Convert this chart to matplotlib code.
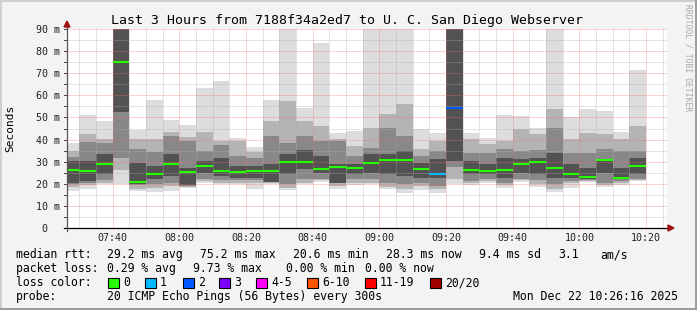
import matplotlib
matplotlib.use('Agg')
import matplotlib.pyplot as plt
from matplotlib.patches import Rectangle, Polygon
from matplotlib.transforms import blended_transform_factory

W, H = 697, 310
plt.rcParams['font.family'] = ['DejaVu Sans Mono']

# end time of each 5 minute step (bar covers the 5 minutes before it)
times = ['07:30', '07:35', '07:40', '07:45', '07:50', '07:55', '08:00', '08:05', '08:10',
         '08:15', '08:20', '08:25', '08:30', '08:35', '08:40', '08:45', '08:50', '08:55',
         '09:00', '09:05', '09:10', '09:15', '09:20', '09:25', '09:30', '09:35', '09:40',
         '09:45', '09:50', '09:55', '10:00', '10:05', '10:10', '10:15', '10:20']

# smoke layers in ms (outer = min..max of the 20 pings, core = around the median)
outer_lo = [16.9, 17.8, 19.9, 20.0, 16.9, 16.3, 16.7, 18.1, 20.5, 19.7, 19.7, 17.8, 19.7, 17.2, 19.7, 20.8, 17.5, 19.3,
            19.7, 17.8, 16.0, 17.2, 16.0, 19.7, 19.3, 20.5, 18.1, 20.8, 18.7, 16.3, 18.2, 20.8, 18.7, 19.3, 21.3]
outer_hi = [38.6, 51.1, 48.4, 95.0, 44.3, 57.9, 48.8, 46.7, 63.3, 66.5, 40.6, 36.8, 57.9, 95.0, 54.4, 83.5, 43.1, 43.9,
            95.0, 95.0, 95.0, 44.9, 42.8, 95.0, 42.8, 40.6, 51.0, 50.7, 45.4, 95.0, 50.4, 54.0, 52.9, 43.4, 71.5]
mid_lo = [18.7, 19.3, 20.5, 26.2, 17.8, 18.2, 19.0, 18.7, 21.1, 20.5, 20.5, 20.5, 20.5, 18.2, 20.5, 21.7, 19.0, 20.5,
          20.5, 18.7, 17.5, 19.0, 17.5, 22.0, 20.5, 21.1, 19.3, 21.7, 19.7, 17.8, 20.2, 21.3, 19.3, 20.2, 21.7]
mid_hi = [34.8, 42.4, 40.1, 95.0, 40.1, 40.4, 43.4, 41.2, 43.4, 39.4, 39.4, 34.4, 48.4, 57.4, 48.4, 46.1, 40.1, 37.1,
          45.4, 51.4, 55.9, 35.6, 39.4, 95.0, 40.1, 37.8, 39.4, 44.6, 42.4, 53.7, 40.1, 43.1, 42.4, 40.1, 46.1]
inner_lo = [19.7, 20.5, 21.7, 31.8, 19.3, 19.7, 20.5, 19.2, 22.0, 21.7, 21.7, 21.7, 21.3, 19.7, 22.3, 22.3, 20.2, 22.0,
            22.0, 20.5, 19.7, 20.5, 19.0, 27.8, 21.3, 22.0, 20.5, 22.3, 21.7, 19.7, 21.3, 21.7, 20.5, 21.3, 22.3]
inner_hi = [32.3, 38.9, 38.3, 95.0, 35.9, 34.4, 41.6, 39.4, 34.8, 37.4, 32.6, 31.8, 41.6, 38.6, 41.6, 39.4, 39.4, 32.6,
            36.3, 45.4, 41.6, 32.6, 34.8, 95.0, 34.1, 34.1, 35.6, 34.8, 35.3, 45.4, 34.1, 34.1, 35.6, 34.8, 34.8]
core_lo = [20.5, 21.1, 24.3, 52.5, 20.0, 22.0, 23.5, 19.6, 25.0, 23.5, 22.8, 22.8, 21.0, 24.3, 26.5, 25.0, 20.5, 24.3,
           25.0, 24.3, 23.5, 22.8, 22.8, 30.3, 24.3, 24.3, 22.8, 25.0, 24.3, 22.8, 22.8, 22.3, 25.0, 22.3, 24.3]
core_hi = [30.3, 30.3, 33.3, 95.0, 29.5, 28.0, 33.3, 27.0, 30.3, 31.8, 28.0, 28.0, 28.8, 33.3, 35.3, 32.6, 28.8, 28.8,
           33.3, 33.3, 34.8, 29.5, 31.1, 95.0, 30.3, 28.8, 31.8, 31.1, 31.8, 34.1, 28.8, 27.3, 31.1, 27.3, 31.8]
median = [26.2, 25.8, 29.1, 75.2, 20.6, 24.4, 28.8, 25.5, 28.0, 25.9, 25.5, 25.9, 25.9, 29.9, 29.9, 26.8, 27.7, 27.2,
          29.5, 30.8, 30.8, 26.8, 24.6, 54.4, 26.2, 25.8, 26.2, 29.1, 30.0, 27.3, 24.6, 23.2, 30.8, 22.8, 28.0]
loss = [0, 0, 0, 0, 0, 0, 0, 0, 0, 0, 0, 0, 0, 0, 0, 0, 0, 0,
        0, 0, 0, 0, 1, 2, 0, 0, 0, 0, 0, 0, 0, 0, 0, 0, 0]

loss_labels = ['0', '1', '2', '3', '4-5', '6-10', '11-19', '20/20']
loss_colors = ['#26ff00', '#00b8ff', '#0059ff', '#7e00ff', '#ff00ff', '#ff5500', '#ff0000', '#a10000']

xtick_labels = ['07:40', '08:00', '08:20', '08:40', '09:00', '09:20', '09:40', '10:00', '10:20']
ytick_values = [0, 10, 20, 30, 40, 50, 60, 70, 80, 90]
ytick_labels = [' 0', '10 m', '20 m', '30 m', '40 m', '50 m', '60 m', '70 m', '80 m', '90 m']


def tmin(s):
    h, m = s.split(':')
    return int(h) * 60 + int(m)


t_end = tmin('10:26') + 16 / 60
t_start = t_end - 180

fig = plt.figure(figsize=(W / 100, H / 100), dpi=100, facecolor='#f3f3f3')
# rrdtool style frame
fig.add_artist(Rectangle((0, 1 - 2 / H), 1, 2 / H, transform=fig.transFigure, color='#cfcfcf', lw=0))
fig.add_artist(Rectangle((0, 0), 2 / W, 1, transform=fig.transFigure, color='#cfcfcf', lw=0))
fig.add_artist(Rectangle((0, 0), 1, 2 / H, transform=fig.transFigure, color='#9e9e9e', lw=0))
fig.add_artist(Rectangle((1 - 2 / W, 0), 2 / W, 1, transform=fig.transFigure, color='#9e9e9e', lw=0))

ax = fig.add_axes([67 / W, 82 / H, 600 / W, 199 / H])
ax.set_facecolor('white')
ax.set_xlim(t_start, t_end)
ax.set_ylim(0, 90)
for s in ax.spines.values():
    s.set_visible(False)
ax.set_xticks([])
ax.set_yticks([])

ends = [tmin(t) for t in times]
lefts = [e - 5 for e in ends]
layers = [(outer_lo, outer_hi, '#dddddd'), (mid_lo, mid_hi, '#b4b4b4'),
          (inner_lo, inner_hi, '#888888'), (core_lo, core_hi, '#525252')]
for lo, hi, col in layers:
    ax.bar(lefts, [h - l for l, h in zip(lo, hi)], bottom=lo, width=5, align='edge',
           color=col, linewidth=0, zorder=2)

ax.hlines(median, lefts, ends, colors=[loss_colors[k] for k in loss], linewidth=1.5, zorder=4)

# grid (drawn over the smoke, like rrdtool)
dot = (0, (1, 1))
red = (1, 0.4, 0.4, 0.6)
grey = (0.68, 0.68, 0.68, 0.65)
for v in range(5, 95, 5):
    ax.axhline(v, color=red if v % 10 == 0 else grey, lw=0.72, ls=dot, zorder=3)
m = (int(t_start) // 5 + 1) * 5
while m < t_end:
    ax.axvline(m, color=red if m % 20 == 0 else grey, lw=0.72, ls=dot, zorder=3)
    m += 5

# axes lines with arrows
ax.plot([-3 / 600, 1 + 3 / 600], [0, 0], color='black', lw=0.9, transform=ax.transAxes,
        clip_on=False, zorder=5)
ax.plot([0, 0], [-3 / 199, 1 + 4 / 199], color='#555555', lw=0.9, transform=ax.transAxes,
        clip_on=False, zorder=5)
ax.add_patch(Polygon([[1 + 1 / 600, 3 / 199], [1 + 1 / 600, -3 / 199], [1 + 7 / 600, 0]],
                     closed=True, color='#a01010', transform=ax.transAxes, clip_on=False, zorder=6))
ax.add_patch(Polygon([[-3 / 600, 1 + 2 / 199], [3 / 600, 1 + 2 / 199], [0, 1 + 8 / 199]],
                     closed=True, color='#a01010', transform=ax.transAxes, clip_on=False, zorder=6))
# small ticks on the y axis
for v in range(0, 95, 5):
    ax.plot([-3 / 600, 0], [v, v], color='#444444', lw=0.7,
            transform=blended_transform_factory(ax.transAxes, ax.transData), clip_on=False)

# tick labels
ty = blended_transform_factory(fig.transFigure, ax.transData)
for v, lab in zip(ytick_values, ytick_labels):
    fig.text(36 / W, v, lab, transform=ty, ha='left', va='center_baseline', fontsize=7.2, color='#222222')
tx = blended_transform_factory(ax.transData, fig.transFigure)
for lab in xtick_labels:
    ax.text(tmin(lab), 1 - 241 / H, lab, transform=tx, ha='center', va='baseline', fontsize=7.2,
            color='#222222')

fig.text(347 / W, 1 - 24 / H, 'Last 3 Hours from 7188f34a2ed7 to U. C. San Diego Webserver',
         ha='center', va='baseline', fontsize=9.5, color='black')
fig.text(10 / W, 1 - 128 / H, 'Seconds', rotation=90, ha='center', va='center', fontsize=8)
fig.text(688 / W, 1 - 4 / H, 'RRDTOOL / TOBI OETIKER', rotation=270, ha='center', va='top',
         fontsize=5.8, color='#a8a8a8')

# legend rows
fs = 8.3
row1 = [('median rtt:', 16), ('29.2 ms avg', 107), ('75.2 ms max', 200), ('20.6 ms min', 293),
        ('28.3 ms now', 386), ('9.4 ms sd', 479), ('3.1', 558), ('am/s', 600)]
row2 = [('packet loss:', 16), ('0.29 % avg', 107), ('9.73 % max', 193), ('0.00 % min', 286),
        ('0.00 % now', 365)]
row4 = [('probe:', 16), ('20 ICMP Echo Pings (56 Bytes) every 300s', 107),
        ('Mon Dec 22 10:26:16 2025', 513)]
for row, base in ((row1, 258), (row2, 272), (row4, 300)):
    for s, x in row:
        fig.text(x / W, 1 - base / H, s, ha='left', va='baseline', fontsize=fs, color='black')

fig.text(16 / W, 1 - 286 / H, 'loss color:', ha='left', va='baseline', fontsize=fs)
box_x = [108, 145, 183, 219, 256, 307, 365, 430]
for bx, lab, col in zip(box_x, loss_labels, loss_colors):
    fig.add_artist(Rectangle((bx / W, 1 - 288 / H), 11 / W, 10 / H, transform=fig.transFigure,
                             facecolor=col, edgecolor='black', lw=0.8))
    fig.text((bx + 15) / W, 1 - 286 / H, lab, ha='left', va='baseline', fontsize=fs)

fig.savefig('out.png', dpi=100, facecolor=fig.get_facecolor())
